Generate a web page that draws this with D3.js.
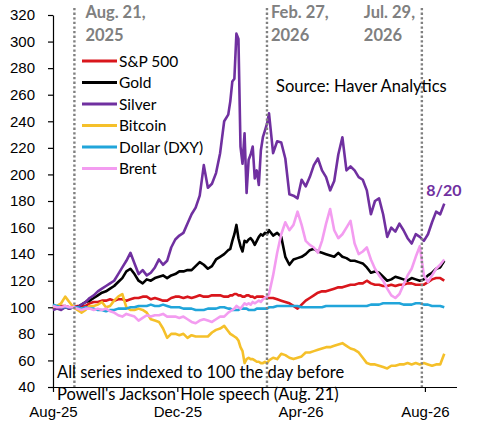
<!DOCTYPE html>
<html>
<head>
<meta charset="utf-8">
<script src="https://cdn.jsdelivr.net/npm/d3@7"></script>
<style>
  body { margin: 0; background: #fff; }
  svg { font-family: Lato, "Open Sans", sans-serif; }
  .axis text { font-size: 15px; fill: #000; }
  .axis path, .axis line { stroke: #000; stroke-width: 1.2; }
  .note { font-size: 16.5px; fill: #000; }
  .legend-text { font-size: 15.5px; fill: #000; }
  .event { font-size: 16.5px; font-weight: bold; fill: #808080; }
</style>
</head>
<body>
<svg width="477" height="427"></svg>
<script>
// dates of the sampled points (denser round the late-January silver spike)
const dates = [
  "2025-08-01","2025-08-05","2025-08-09","2025-08-13","2025-08-17","2025-08-21","2025-08-25","2025-08-29",
  "2025-09-02","2025-09-06","2025-09-10","2025-09-14","2025-09-18","2025-09-22","2025-09-26","2025-09-30",
  "2025-10-04","2025-10-08","2025-10-12","2025-10-16","2025-10-20","2025-10-24","2025-10-28","2025-11-01",
  "2025-11-05","2025-11-09","2025-11-13","2025-11-17","2025-11-21","2025-11-25","2025-11-29","2025-12-03",
  "2025-12-07","2025-12-11","2025-12-15","2025-12-19","2025-12-23","2025-12-27","2025-12-31","2026-01-04",
  "2026-01-08","2026-01-12","2026-01-16","2026-01-20",
  "2026-01-22","2026-01-24","2026-01-26","2026-01-28","2026-01-30","2026-02-01","2026-02-03","2026-02-05",
  "2026-02-07","2026-02-09","2026-02-11","2026-02-13","2026-02-15","2026-02-17","2026-02-19","2026-02-21",
  "2026-02-23","2026-02-25","2026-02-27","2026-03-01",
  "2026-03-05","2026-03-09","2026-03-13","2026-03-17","2026-03-21","2026-03-25","2026-03-29","2026-04-02",
  "2026-04-06","2026-04-10","2026-04-14","2026-04-18","2026-04-22","2026-04-26","2026-04-30","2026-05-04",
  "2026-05-08","2026-05-12","2026-05-16","2026-05-20","2026-05-24","2026-05-28","2026-06-01","2026-06-05",
  "2026-06-09","2026-06-13","2026-06-17","2026-06-21","2026-06-25","2026-06-29","2026-07-03","2026-07-07",
  "2026-07-11","2026-07-15","2026-07-19","2026-07-23","2026-07-27","2026-07-31","2026-08-04","2026-08-08",
  "2026-08-12","2026-08-16","2026-08-20"
];

const sp500 = [
  100,99,101,101,100,100,101,101,101,103,104,104,105,105,106,105,106,106,105,106,107,107,108,108,
  106,107,106,105,105,107,108,108,107,108,107,108,109,108,108,109,109,109,108,108,
  109,109,110,110,109,109,108,108,109,109,108,108,107,108,108,108,108,107,107,107,
  107,106,105,104,103,101,99,102,105,107,109,111,112,112,113,114,115,115,116,117,117,118,118,120,
  118,117,117,116,116,117,116,117,117,118,118,117,117,117,119,121,122,122,120
];
const gold = [
  100,100,99,100,99,100,100,102,104,105,107,109,111,112,114,116,119,122,127,129,125,120,118,121,
  120,122,123,124,122,124,125,127,127,128,128,131,134,132,129,131,136,138,140,143,
  144,150,155,162,152,146,142,150,149,151,152,150,147,150,153,155,154,156,155,158,
  154,156,153,138,132,136,137,138,140,143,144,142,141,140,139,138,141,138,137,135,135,134,133,130,
  126,127,126,123,120,121,123,122,121,120,122,121,120,121,124,126,129,130,135
];
const silver = [
  98,99,98,100,99,100,100,102,104,107,109,112,114,116,118,120,125,130,135,141,133,125,128,124,
  126,130,136,132,135,145,151,154,156,163,170,175,184,207,190,193,201,216,240,245,
  255,270,272,306,302,221,208,231,186,211,215,221,197,203,192,218,228,233,238,246,
  216,225,224,212,185,184,182,196,191,198,207,212,203,198,188,195,215,228,203,206,203,198,196,188,
  170,180,182,170,153,160,157,163,158,152,148,155,153,150,155,164,172,170,178
];
const bitcoin = [
  100,101,103,108,104,100,98,96,98,101,101,102,104,100,101,105,108,110,100,98,98,99,98,96,
  91,90,89,84,77,80,80,79,80,77,79,78,78,78,78,81,83,84,86,82,
  80,79,78,77,75,70,67,58,61,62,61,61,60,59,59,58,58,59,58,60,
  62,61,65,64,62,61,62,63,66,66,67,68,69,70,70,71,72,73,71,69,68,66,62,58,
  57,57,56,55,54,56,56,57,57,58,57,58,57,58,57,56,57,57,65
];
const dollar = [
  102,101,100,100,100,100,100,99,100,99,99,98,98,97,98,98,99,99,99,100,100,101,101,101,
  102,101,101,102,101,100,100,100,99,99,99,98,98,98,99,99,99,100,100,99,
  99,98,98,98,98,99,99,99,99,98,98,98,98,99,99,99,99,99,99,100,
  100,101,101,101,101,101,101,100,100,100,100,100,100,101,101,101,101,101,101,101,101,101,101,101,
  102,102,102,103,103,103,103,103,102,102,102,103,103,102,102,101,101,101,100
];
const brent = [
  101,100,100,101,100,100,99,98,99,99,98,99,98,99,97,96,94,93,95,94,93,90,92,94,
  93,94,94,95,93,93,93,92,93,91,89,88,90,91,90,89,91,93,93,96,
  97,98,99,101,100,99,101,103,102,103,102,104,103,104,105,104,106,107,108,110,
  124,141,155,164,158,162,172,162,150,147,145,141,150,163,174,158,152,155,160,165,148,140,142,145,
  136,129,124,120,114,109,107,110,117,124,129,138,146,124,119,124,129,132,136
];

const seriesNames = ["S&P 500", "Gold", "Silver", "Bitcoin", "Dollar (DXY)", "Brent"];
const seriesValues = [sp500, gold, silver, bitcoin, dollar, brent];
const seriesColors = ["#d9161c", "#000000", "#7030a0", "#f5c02a", "#21a5da", "#f39cf0"];

const yTicks = [40, 60, 80, 100, 120, 140, 160, 180, 200, 220, 240, 260, 280, 300, 320];
const xTicks = ["2025-08-01", "2025-12-01", "2026-04-01", "2026-08-01"];

const eventDates = ["2025-08-22", "2026-02-27", "2026-07-29"];
const eventLabels = [["Aug. 21,", "2025"], ["Feb. 27,", "2026"], ["Jul. 29,", "2026"]];

const parseDate = d3.timeParse("%Y-%m-%d");
const dateObjs = dates.map(parseDate);

const svg = d3.select("svg");
const plotLeft = 53, plotRight = 456.5, plotTop = 15, plotBottom = 387;

const x = d3.scaleTime()
  .domain([parseDate("2025-08-01"), parseDate("2026-09-01")])
  .range([plotLeft, plotRight]);

const y = d3.scaleLinear()
  .domain([40, 320])
  .range([plotBottom, plotTop]);

// axes
svg.append("g")
  .attr("class", "axis")
  .attr("transform", `translate(0,${plotBottom})`)
  .call(d3.axisBottom(x)
    .tickValues(xTicks.map(parseDate))
    .tickFormat(d3.timeFormat("%b-%y"))
    .tickSize(5)
    .tickSizeOuter(0)
    .tickPadding(14));

svg.append("g")
  .attr("class", "axis")
  .attr("transform", `translate(${plotLeft},0)`)
  .call(d3.axisLeft(y)
    .tickValues(yTicks)
    .tickSize(5)
    .tickSizeOuter(0)
    .tickPadding(13));

// series lines
const line = d3.line()
  .x((d, i) => x(dateObjs[i]))
  .y(d => y(d));

seriesValues.forEach((vals, k) => {
  svg.append("path")
    .datum(vals)
    .attr("fill", "none")
    .attr("stroke", seriesColors[k])
    .attr("stroke-width", 2.6)
    .attr("stroke-linejoin", "round")
    .attr("d", line);
});

// dotted event lines + labels
eventDates.forEach((d, i) => {
  const ex = x(parseDate(d));
  svg.append("line")
    .attr("x1", ex).attr("x2", ex)
    .attr("y1", 8).attr("y2", plotBottom)
    .attr("stroke", "#808080")
    .attr("stroke-width", 2.4)
    .attr("stroke-dasharray", "2.3,2.3");

  const lx = i === 2 ? ex - 58 : ex + (i === 0 ? 11 : 4);
  eventLabels[i].forEach((t, j) => {
    svg.append("text")
      .attr("class", "event")
      .attr("x", lx)
      .attr("y", 18 + j * 23)
      .text(t);
  });
});

// legend
const legend = svg.append("g").attr("transform", "translate(82,61)");
seriesNames.forEach((name, i) => {
  const row = legend.append("g").attr("transform", `translate(0,${i * 21.5})`);
  row.append("line")
    .attr("x1", 0).attr("x2", 35)
    .attr("stroke", seriesColors[i])
    .attr("stroke-width", 3);
  row.append("text")
    .attr("class", "legend-text")
    .attr("x", 37)
    .attr("y", 5.5)
    .text(name);
});

// notes
svg.append("text").attr("class", "note").attr("x", 276).attr("y", 92)
  .text("Source: Haver Analytics");

svg.append("text")
  .attr("x", x(dateObjs[dateObjs.length - 1]) - 18)
  .attr("y", y(silver[silver.length - 1]) - 8)
  .attr("font-size", 16)
  .attr("font-weight", "bold")
  .attr("fill", "#7030a0")
  .text("8/20");

svg.append("text").attr("class", "note").attr("x", 57).attr("y", 378)
  .text("All series indexed to 100 the day before");
svg.append("text").attr("class", "note").attr("x", 57).attr("y", 400)
  .text("Powell's Jackson Hole speech (Aug. 21)");
</script>
</body>
</html>
